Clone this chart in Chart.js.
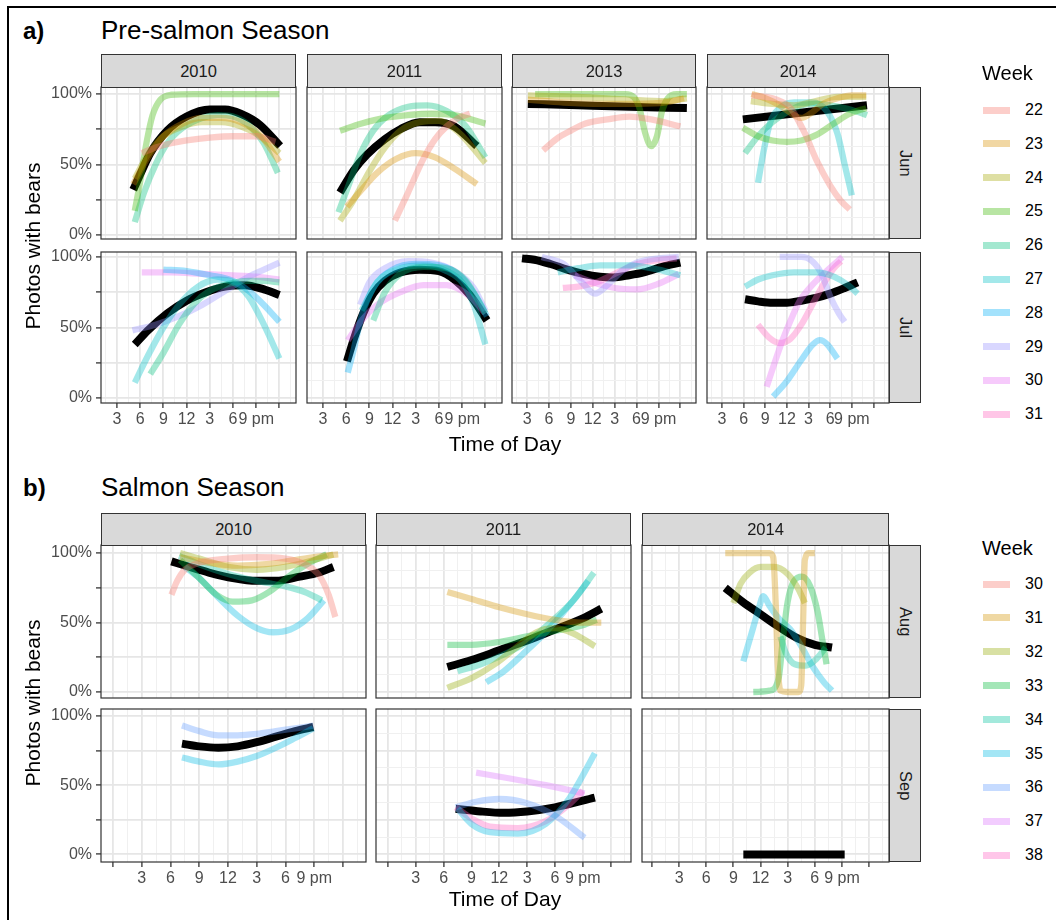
<!DOCTYPE html>
<html><head><meta charset="utf-8">
<script src="https://cdn.jsdelivr.net/npm/chart.js@4.4.1/dist/chart.umd.min.js"></script>
<style>
body{margin:0;background:#fff;width:1056px;height:920px;overflow:hidden;position:relative;font-family:'Liberation Sans',Arial,sans-serif;}
.t{position:absolute;white-space:nowrap;}
.strip{position:absolute;background:#d9d9d9;border:1px solid #333;box-sizing:border-box;color:#1a1a1a;font-size:16.5px;display:flex;align-items:center;justify-content:center;}
.vstrip{writing-mode:vertical-rl;}
canvas{position:absolute;}
</style></head><body>
<script>
// ---------- categories, ticks ----------
const weeksPre = [22,23,24,25,26,27,28,29,30,31];
const weeksSalmon = [30,31,32,33,34,35,36,37,38];
const colorsPre = ['#F8766D','#D89000','#A3A500','#39B600','#00BF7D','#00BFC4','#00B0F6','#9590FF','#E76BF3','#FF62BC'];
const colorsSalmon = ['#F8766D','#D39200','#93AA00','#00BA38','#00C19F','#00B9E3','#619CFF','#DB72FB','#FF61C3'];
const yearsPre = ['2010','2011','2013','2014'];
const yearsSalmon = ['2010','2011','2014'];
const monthsPre = ['Jun','Jul'];
const monthsSalmon = ['Aug','Sep'];
const xTickHours = [0,3,6,9,12,15,18,21,24];
const xTickLabels = ['','3','6','9','12','3','6','9 pm',''];
const yTickValues = [0,0.25,0.5,0.75,1];
const yTickLabels = ['0%','','50%','','100%'];

// ---------- series: [hour of day, fraction of photos with bears] ----------
// Pre-salmon, June
const pre2010Jun_22 = [[6.2,.58],[8,.62],[10,.65],[12,.67],[15,.69],[18,.70],[21,.70],[23.5,.66]];
const pre2010Jun_23 = [[5.1,.36],[7,.55],[9,.7],[11.5,.79],[14,.83],[16.5,.83],[19,.8],[21.5,.71],[24,.52]];
const pre2010Jun_24 = [[5.3,.40],[7,.57],[9,.7],[11.5,.77],[14,.8],[16.5,.8],[19,.77],[21.5,.7],[24,.58]];
const pre2010Jun_25 = [[5.3,.17],[6,.38],[6.8,.65],[7.6,.85],[8.6,.96],[10,.995],[13,1],[24,1]];
const pre2010Jun_26 = [[5.3,.09],[6.5,.3],[8,.5],[9.5,.65],[11.5,.76],[14,.83],[16,.85],[18,.84],[20,.78],[22,.65],[23.8,.44]];
const pre2010Jun_all = [[5.1,.32],[6,.43],[7.3,.58],[9.5,.74],[12,.84],[15,.89],[17,.89],[19,.86],[21.5,.78],[24.1,.63]];

const pre2011Jun_22 = [[12.3,.1],[14,.3],[15.9,.53],[17.5,.68],[19,.77],[20.5,.83],[22,.86]];
const pre2011Jun_23 = [[6.1,.2],[8,.32],[10,.44],[12.5,.54],[15,.58],[17.5,.55],[20,.47],[22.9,.36]];
const pre2011Jun_24 = [[5.2,.1],[7,.25],[9,.45],[11,.62],[13,.74],[15.5,.8],[18,.81],[20.5,.73],[24,.51]];
const pre2011Jun_25 = [[5.2,.74],[8,.79],[11,.83],[14,.85],[17,.86],[20,.85],[24,.79]];
const pre2011Jun_26 = [[5,.16],[6.5,.38],[7.8,.57],[9.5,.74],[11.5,.85],[14,.91],[16.5,.92],[19,.88],[21.5,.77],[24,.55]];
const pre2011Jun_all = [[5.2,.3],[7,.46],[8.7,.57],[11,.68],[13,.75],[15.5,.8],[17.5,.8],[20,.77],[22.9,.63]];

const pre2013Jun_22 = [[5.2,.6],[7,.68],[9,.74],[11,.79],[14,.82],[17,.84],[20,.82],[24,.77]];
const pre2013Jun_23 = [[3.1,.96],[8,.94],[13,.93],[18,.93],[22,.94],[24.5,.97]];
const pre2013Jun_24 = [[3.1,.99],[10,.98],[17,.96],[22,.95],[24.9,.97]];
const pre2013Jun_25 = [[4.1,1],[10,1],[16.5,1],[17.6,.98],[18.4,.9],[19.2,.72],[20,.63],[20.8,.7],[21.5,.88],[22.3,.97],[23.5,1],[24.9,1]];
const pre2013Jun_all = [[3.1,.93],[10,.92],[17,.91],[24.9,.9]];

const pre2014Jun_22 = [[7.1,.99],[9,.98],[10.6,.96],[12.5,.9],[14.5,.72],[16.1,.53],[18,.35],[19.5,.24],[20.7,.18]];
const pre2014Jun_23 = [[7.1,1],[9,.97],[11,.92],[13,.85],[14,.83],[15.5,.87],[17,.93],[19,.97],[21,.99],[23,.99]];
const pre2014Jun_24 = [[7,.95],[10,.93],[13,.92],[16,.95],[19,.98],[23,.98]];
const pre2014Jun_25 = [[5.9,.76],[8,.7],[10,.67],[12,.66],[14,.67],[16.1,.71],[18.5,.79],[20.7,.86],[23,.9]];
const pre2014Jun_26 = [[6.2,.58],[8,.7],[10,.8],[12,.87],[14,.92],[16,.93],[18,.92],[20,.9],[22,.87],[23.1,.85]];
const pre2014Jun_27 = [[8,.37],[8.8,.6],[9.7,.8],[11,.9],[13,.94],[15.5,.94],[17.5,.88],[19,.72],[20,.5],[21,.28]];
const pre2014Jun_all = [[5.9,.82],[14.5,.87],[23.1,.92]];

// Pre-salmon, July
const pre2010Jul_26 = [[7.3,.17],[9,.32],[11,.52],[13,.67],[15,.76],[17.5,.81],[20,.83],[22,.83],[24,.82]];
const pre2010Jul_27 = [[5.3,.11],[7,.3],[9,.5],[11,.66],[13.5,.79],[16,.84],[18,.82],[20,.72],[22,.52],[24,.28]];
const pre2010Jul_28 = [[9,.91],[12,.9],[15,.87],[18,.83],[20,.76],[22,.66],[24,.54]];
const pre2010Jul_29 = [[5,.48],[8,.52],[11,.58],[14,.66],[17,.76],[20,.86],[22,.91],[24,.96]];
const pre2010Jul_30 = [[6.2,.89],[10,.89],[14,.88],[18,.87],[21,.86],[24,.84]];
const pre2010Jul_all = [[5.3,.38],[7,.48],[9.5,.6],[12,.69],[14.5,.75],[17,.79],[19.5,.8],[22,.77],[24,.73]];

const pre2011Jul_26 = [[9.5,.55],[11,.75],[13,.88],[16,.93],[19,.92],[21.5,.83],[24,.6]];
const pre2011Jul_27 = [[8,.62],[10,.82],[13,.92],[16,.94],[19,.9],[21,.82],[22.5,.66],[24,.38]];
const pre2011Jul_28 = [[6.2,.18],[7,.35],[8,.58],[9.5,.78],[12,.91],[15,.95],[18,.94],[21,.85],[23,.7],[24.2,.58]];
const pre2011Jul_29 = [[7.8,.66],[9,.82],[11,.92],[14,.97],[17,.96],[20,.9],[22.5,.78],[24,.62]];
const pre2011Jul_30 = [[6.2,.41],[8,.55],[10,.66],[13,.75],[16,.8],[19,.8],[22,.72],[24,.6]];
const pre2011Jul_all = [[6.1,.26],[7,.42],[8.2,.6],[9.5,.74],[11,.83],[13,.89],[15.5,.91],[18,.9],[20,.84],[22,.73],[24.2,.55]];

const pre2013Jul_27 = [[7.2,.89],[10,.92],[13,.94],[17,.94],[21,.91],[24,.87]];
const pre2013Jul_29 = [[5,1],[8,.95],[10.5,.82],[12.3,.74],[14,.8],[16,.9],[18,.96],[21,.99],[23.8,1]];
const pre2013Jul_30 = [[9.5,.87],[12,.82],[15,.78],[18,.77],[21,.81],[23.8,.88]];
const pre2013Jul_31 = [[7.9,.78],[10,.79],[12.5,.82],[15,.88],[17.5,.94],[20,.97],[23.5,.99]];
const pre2013Jul_all = [[2.3,.99],[4,.98],[6.2,.95],[8.5,.91],[10.7,.88],[13,.86],[14.8,.855],[17,.87],[19,.89],[21.5,.93],[24,.96]];

const pre2014Jul_27 = [[6.2,.79],[8,.84],[10,.87],[13,.89],[16,.89],[18.5,.86],[20.5,.8],[21.8,.74]];
const pre2014Jul_28 = [[10.1,.01],[12,.12],[14,.27],[15.6,.38],[16.6,.41],[17.6,.38],[19,.28]];
const pre2014Jul_29 = [[11,1],[14,1],[15.5,.97],[16.8,.88],[18,.72],[19.2,.6],[20,.54]];
const pre2014Jul_30 = [[9.2,.08],[10.3,.25],[11.4,.41],[12.6,.56],[13.8,.69],[15.5,.8],[17.5,.9],[19.7,1]];
const pre2014Jul_31 = [[8,.52],[9.5,.43],[11,.39],[12.5,.42],[14,.52],[15.5,.66],[17,.8],[18.5,.92],[19.5,.97]];
const pre2014Jul_all = [[6.2,.7],[8,.685],[10,.675],[12,.675],[14,.69],[16,.71],[18,.74],[20,.78],[21.8,.82]];

// Salmon, August
const sal2010Aug_30 = [[6.1,.7],[6.7,.8],[7.5,.88],[9,.93],[12,.96],[15,.97],[18,.96],[20,.92],[21.5,.84],[22.5,.7],[23.2,.54]];
const sal2010Aug_31 = [[7,.97],[10,.93],[13,.91],[16,.92],[19,.95],[22,.98],[23.5,.99]];
const sal2010Aug_32 = [[7,1],[9,.96],[12,.9],[15,.88],[18,.9],[21,.95],[23,.99]];
const sal2010Aug_33 = [[7,.95],[9,.82],[10.8,.7],[12.5,.65],[14.5,.66],[16.5,.73],[18.5,.84],[20.5,.93],[22.3,.99]];
const sal2010Aug_34 = [[6.9,.98],[9,.92],[12,.85],[15,.8],[18,.76],[20,.72],[21.8,.66]];
const sal2010Aug_35 = [[7.5,.9],[9,.82],[11,.68],[13,.55],[15,.46],[16.7,.43],[18.5,.45],[20.3,.53],[22,.66]];
const sal2010Aug_all = [[6.1,.94],[8,.9],[10,.86],[12.5,.82],[15,.8],[17,.8],[19.5,.83],[21.5,.86],[23,.9]];

const sal2011Aug_31 = [[6.4,.72],[9,.67],[12,.61],[15,.56],[18,.52],[21,.5],[23,.5]];
const sal2011Aug_32 = [[6.4,.03],[9,.1],[11.5,.2],[14,.33],[16,.43],[18,.46],[20,.42],[22.3,.33]];
const sal2011Aug_33 = [[6.4,.34],[9,.34],[12,.36],[15,.4],[18,.44],[21,.48],[22.5,.52]];
const sal2011Aug_34 = [[7.5,.15],[10,.2],[12.5,.27],[15,.36],[17.5,.5],[20,.66],[22.2,.86]];
const sal2011Aug_35 = [[10.6,.07],[12.5,.15],[14.5,.27],[17,.43],[19.5,.62],[21.6,.8]];
const sal2011Aug_all = [[6.4,.18],[9,.23],[12,.3],[15,.37],[18,.45],[21,.53],[23,.6]];

const sal2014Aug_31 = [[8.1,1],[11,1],[13,1],[13.4,.97],[13.7,.6],[13.9,.2],[14.2,.01],[15,0],[16.2,0],[16.5,.05],[16.7,.5],[16.9,.95],[17.3,1],[18,1]];
const sal2014Aug_32 = [[9,.64],[9.8,.78],[10.8,.86],[12,.9],[13.5,.9],[15,.85],[16.2,.74],[16.9,.64]];
const sal2014Aug_33 = [[11.2,0],[13,.01],[14,.1],[14.5,.4],[15,.65],[15.7,.8],[16.6,.83],[17.5,.76],[18.3,.58],[18.9,.35],[19.3,.2]];
const sal2014Aug_34 = [[14.2,.4],[14.8,.28],[15.8,.2],[17,.19],[18.2,.24],[19.2,.32]];
const sal2014Aug_35 = [[10.1,.22],[11,.42],[11.8,.6],[12.3,.69],[13,.62],[14,.53],[15.3,.45],[16.5,.33],[17.8,.18],[19,.07],[19.9,.01]];
const sal2014Aug_all = [[8.1,.75],[10,.65],[12,.56],[14,.47],[16,.39],[18,.34],[19.9,.32]];

// Salmon, September
const sal2010Sep_35 = [[7.2,.7],[9,.67],[11,.65],[13,.67],[15,.71],[17,.77],[19,.84],[20.9,.91]];
const sal2010Sep_36 = [[7.2,.93],[9,.89],[11,.86],[13,.86],[15,.87],[17,.89],[19,.91],[20.9,.93]];
const sal2010Sep_all = [[7.2,.8],[9,.78],[11,.77],[13,.78],[15,.81],[17,.85],[19,.89],[20.9,.92]];

const sal2011Sep_35 = [[7.5,.33],[9,.22],[11,.16],[14,.15],[17,.22],[19.5,.4],[21,.57],[22.3,.73]];
const sal2011Sep_36 = [[7.3,.34],[9.5,.38],[12,.4],[15,.37],[18,.28],[21.2,.12]];
const sal2011Sep_37 = [[9.5,.59],[13,.55],[17,.5],[21.2,.44]];
const sal2011Sep_38 = [[7.3,.34],[9,.26],[11,.2],[14,.19],[17,.24],[19.5,.36],[21,.46]];
const sal2011Sep_all = [[7.3,.33],[10,.31],[12.5,.3],[15,.31],[18,.34],[22.3,.41]];

const sal2014Sep_all = [[10.1,0],[21.3,0]];

// ---------- panel membership ----------
const prePanels = [
  {col:0,row:0,lines:[[22,pre2010Jun_22],[23,pre2010Jun_23],[24,pre2010Jun_24],[25,pre2010Jun_25],[26,pre2010Jun_26]],all:pre2010Jun_all},
  {col:1,row:0,lines:[[22,pre2011Jun_22],[23,pre2011Jun_23],[24,pre2011Jun_24],[25,pre2011Jun_25],[26,pre2011Jun_26]],all:pre2011Jun_all},
  {col:2,row:0,lines:[[22,pre2013Jun_22],[23,pre2013Jun_23],[24,pre2013Jun_24],[25,pre2013Jun_25]],all:pre2013Jun_all},
  {col:3,row:0,lines:[[22,pre2014Jun_22],[23,pre2014Jun_23],[24,pre2014Jun_24],[25,pre2014Jun_25],[26,pre2014Jun_26],[27,pre2014Jun_27]],all:pre2014Jun_all},
  {col:0,row:1,lines:[[26,pre2010Jul_26],[27,pre2010Jul_27],[28,pre2010Jul_28],[29,pre2010Jul_29],[30,pre2010Jul_30]],all:pre2010Jul_all},
  {col:1,row:1,lines:[[26,pre2011Jul_26],[27,pre2011Jul_27],[28,pre2011Jul_28],[29,pre2011Jul_29],[30,pre2011Jul_30]],all:pre2011Jul_all},
  {col:2,row:1,lines:[[27,pre2013Jul_27],[29,pre2013Jul_29],[30,pre2013Jul_30],[31,pre2013Jul_31]],all:pre2013Jul_all},
  {col:3,row:1,lines:[[27,pre2014Jul_27],[28,pre2014Jul_28],[29,pre2014Jul_29],[30,pre2014Jul_30],[31,pre2014Jul_31]],all:pre2014Jul_all}
];
const salPanels = [
  {col:0,row:0,lines:[[30,sal2010Aug_30],[31,sal2010Aug_31],[32,sal2010Aug_32],[33,sal2010Aug_33],[34,sal2010Aug_34],[35,sal2010Aug_35]],all:sal2010Aug_all},
  {col:1,row:0,lines:[[31,sal2011Aug_31],[32,sal2011Aug_32],[33,sal2011Aug_33],[34,sal2011Aug_34],[35,sal2011Aug_35]],all:sal2011Aug_all},
  {col:2,row:0,lines:[[31,sal2014Aug_31],[32,sal2014Aug_32],[33,sal2014Aug_33],[34,sal2014Aug_34],[35,sal2014Aug_35]],all:sal2014Aug_all},
  {col:0,row:1,lines:[[35,sal2010Sep_35],[36,sal2010Sep_36]],all:sal2010Sep_all},
  {col:1,row:1,lines:[[35,sal2011Sep_35],[36,sal2011Sep_36],[37,sal2011Sep_37],[38,sal2011Sep_38]],all:sal2011Sep_all},
  {col:2,row:1,lines:[],all:sal2014Sep_all}
];

// ---------- layout (pixels) ----------
const L = {
  pre: {cols:[[101,296],[307,502],[512,696],[707,889]], rows:[[87,239],[252,403]],
        xr:[[0.93,26.15],[0.93,26.15],[0.93,26.15],[0.93,26.15]], yr:[[-0.03,1.05],[-0.035,1.035]],
        stripTop:54},
  sal: {cols:[[101,366],[376,631],[642,889]], rows:[[545,698],[709,862]],
        xr:[[-1.25,26.4],[-1.29,26.2],[-1.1,26.2]], yr:[[-0.043,1.058],[-0.055,1.05]],
        stripTop:513}
};

Chart.defaults.font.family = "'Liberation Sans', Arial, sans-serif";

function rgba(hex,a){const n=parseInt(hex.slice(1),16);return `rgba(${n>>16},${(n>>8)&255},${n&255},${a})`;}
function gridVals(lo,hi,step){const o=[];for(let k=Math.ceil(lo/step-1e-9);k*step<=hi+1e-9;k++)o.push(+(k*step).toFixed(6));return o;}
function isMult(v,step){const r=v/step;return Math.abs(r-Math.round(r))<1e-6;}

const framePlugin = {id:'frame', afterDraw(c){const a=c.chartArea,g=c.ctx;g.save();g.strokeStyle='#333';g.lineWidth=1.2;g.strokeRect(a.left,a.top,a.right-a.left,a.bottom-a.top);g.restore();}};

function makePanel(x0,x1,y0,y1,xr,yr,showX,showY,datasets){
  const M=14, yW=showY?60:0, xH=showX?30:0;
  const W=(x1-x0)+yW+2*M, H=(y1-y0)+xH+2*M;
  const cv=document.createElement('canvas');
  cv.width=W;cv.height=H;cv.style.width=W+'px';cv.style.height=H+'px';
  cv.style.left=(x0-yW-M)+'px';cv.style.top=(y0-M)+'px';
  document.body.appendChild(cv);
  new Chart(cv,{type:'line',data:{datasets},
    options:{responsive:false,animation:false,devicePixelRatio:1,layout:{padding:M},
      plugins:{legend:{display:false},tooltip:{enabled:false}},
      elements:{point:{radius:0},line:{cubicInterpolationMode:'monotone',borderCapStyle:'butt',borderJoinStyle:'round',fill:false}},
      scales:{
        x:{type:'linear',min:xr[0],max:xr[1],
          afterBuildTicks:s=>{s.ticks=gridVals(xr[0],xr[1],1.5).map(v=>({value:v}));},
          afterFit:s=>{s.height=xH;},
          ticks:{display:showX,autoSkip:false,maxRotation:0,minRotation:0,padding:2,color:'#4d4d4d',font:{size:16},
            callback:v=>{const i=xTickHours.indexOf(v);return i>=0?xTickLabels[i]:'';}},
          grid:{drawTicks:showX,tickLength:5,tickWidth:1.3,
            color:c=>isMult(c.tick.value,3)?'#e6e6e6':'#f0f0f0',
            lineWidth:c=>isMult(c.tick.value,3)?1.8:1,
            tickColor:c=>isMult(c.tick.value,3)?'#333':'rgba(0,0,0,0)'},
          border:{display:false}},
        y:{type:'linear',min:yr[0],max:yr[1],
          afterBuildTicks:s=>{s.ticks=gridVals(0,1,0.125).map(v=>({value:v}));},
          afterFit:s=>{s.width=yW;},
          ticks:{display:showY,padding:4,color:'#4d4d4d',font:{size:16},
            callback:v=>{const i=yTickValues.indexOf(v);return i>=0?yTickLabels[i]:'';}},
          grid:{drawTicks:showY,tickLength:5,tickWidth:1.3,
            color:c=>isMult(c.tick.value,0.25)?'#e6e6e6':'#f0f0f0',
            lineWidth:c=>isMult(c.tick.value,0.25)?1.8:1,
            tickColor:c=>isMult(c.tick.value,0.25)?'#333':'rgba(0,0,0,0)'},
          border:{display:false}}
      }},
    plugins:[framePlugin]});
}

function buildSection(panels,lay,weeks,colors){
  panels.forEach(p=>{
    const [x0,x1]=lay.cols[p.col],[y0,y1]=lay.rows[p.row];
    const ds=p.lines.map(([w,pts])=>({data:pts.map(([x,y])=>({x,y})),borderColor:rgba(colors[weeks.indexOf(w)],0.36),borderWidth:6.3}));
    ds.push({data:p.all.map(([x,y])=>({x,y})),borderColor:'#000',borderWidth:8});
    makePanel(x0,x1,y0,y1,lay.xr[p.col],lay.yr[p.row],p.row===lay.rows.length-1,p.col===0,ds);
  });
}

function txt(s,left,top,style){const d=document.createElement('div');d.className='t';d.textContent=s;d.style.left=left+'px';d.style.top=top+'px';Object.assign(d.style,style||{});document.body.appendChild(d);return d;}
function strip(s,left,top,w,h,vertical){const d=document.createElement('div');d.className='strip'+(vertical?' vstrip':'');d.style.left=left+'px';d.style.top=top+'px';d.style.width=w+'px';d.style.height=h+'px';d.textContent=s;document.body.appendChild(d);}

// outer border
const ob=document.createElement('div');Object.assign(ob.style,{position:'absolute',left:'7px',top:'6px',width:'1100px',height:'1000px',borderLeft:'2.5px solid #000',borderTop:'2.5px solid #000'});document.body.appendChild(ob);

buildSection(prePanels,L.pre,weeksPre,colorsPre);
buildSection(salPanels,L.sal,weeksSalmon,colorsSalmon);

// strips
yearsPre.forEach((y,i)=>strip(y,L.pre.cols[i][0],L.pre.stripTop,L.pre.cols[i][1]-L.pre.cols[i][0],L.pre.rows[0][0]-L.pre.stripTop+1));
monthsPre.forEach((m,i)=>strip(m,889,L.pre.rows[i][0],32,L.pre.rows[i][1]-L.pre.rows[i][0],true));
yearsSalmon.forEach((y,i)=>strip(y,L.sal.cols[i][0],L.sal.stripTop,L.sal.cols[i][1]-L.sal.cols[i][0],L.sal.rows[0][0]-L.sal.stripTop+1));
monthsSalmon.forEach((m,i)=>strip(m,889,L.sal.rows[i][0],32,L.sal.rows[i][1]-L.sal.rows[i][0],true));

// titles
txt('a)',23,18,{fontSize:'24px',fontWeight:'bold',lineHeight:'25px'});
txt('Pre-salmon Season',101,17,{fontSize:'26px',lineHeight:'26px'});
txt('b)',23,475,{fontSize:'24px',fontWeight:'bold',lineHeight:'25px'});
txt('Salmon Season',101,474,{fontSize:'26px',lineHeight:'26px'});

// axis titles
[[443],[898]].forEach(([cy])=>{txt('Time of Day',505,cy,{fontSize:'21px',lineHeight:'21px',transform:'translate(-50%,-50%)'});});
[[246],[703]].forEach(([cy])=>{txt('Photos with bears',32,cy,{fontSize:'21px',lineHeight:'21px',transform:'translate(-50%,-50%) rotate(-90deg)'});});

// legends
function legend(weeks,colors,titleTop,firstY,step){
  txt('Week',982,titleTop,{fontSize:'20px',lineHeight:'20px',color:'#000'});
  weeks.forEach((w,i)=>{
    const yc=firstY+i*step;
    const sw=document.createElement('div');Object.assign(sw.style,{position:'absolute',left:'983px',top:(yc-3.5)+'px',width:'27px',height:'7px',background:rgba(colors[i],0.36)});document.body.appendChild(sw);
    txt(String(w),1025,yc-10,{fontSize:'16px',lineHeight:'20px',color:'#000'});
  });
}
legend(weeksPre,colorsPre,63,110,33.8);
legend(weeksSalmon,colorsSalmon,538,584,33.9);
</script>
</body></html>
